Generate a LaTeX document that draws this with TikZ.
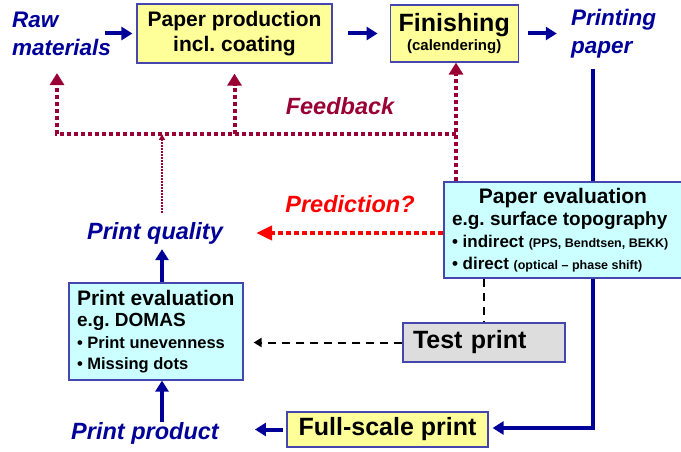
\documentclass[tikz,border=0pt]{standalone}
\usepackage{fontspec}
\setmainfont{Liberation Sans}
\usepackage{xcolor}
\usepackage{tikz}
\usetikzlibrary{arrows.meta, positioning, backgrounds}
\definecolor{navytext}{RGB}{0, 0, 153}
\definecolor{boxline}{RGB}{70, 70, 175}
\definecolor{boxyellow}{RGB}{255, 255, 153}
\definecolor{boxcyan}{RGB}{204, 255, 255}
\definecolor{boxgray}{RGB}{221, 221, 221}
\definecolor{fbred}{RGB}{153, 0, 51}
\definecolor{predred}{RGB}{255, 0, 0}
\frenchspacing

\begin{document}
\begin{tikzpicture}[
    x=1pt, y=-1pt,
    box/.style={draw=boxline, line width=1.2pt, align=center, inner sep=2pt, font=\bfseries},
    ybox/.style={box, fill=boxyellow},
    cbox/.style={box, fill=boxcyan, align=left, inner xsep=8pt,
        execute at begin node={\spaceskip=0pt\xspaceskip=0pt\hyphenpenalty=10000}},
    lbl/.style={text=navytext, align=left, inner sep=3pt, font=\bfseries\itshape\fontsize{23.5}{28}\selectfont},
    barrow/.style={-{Triangle[width=13pt,length=11pt]}, line width=4pt, draw=navytext},
    fback/.style={draw=fbred, line width=4pt, dash pattern=on 4pt off 3pt},
    fbarrow/.style={fback, -{Triangle[width=14pt,length=12pt]}},
    thinfb/.style={draw=fbred, line width=1.5pt, dash pattern=on 1.5pt off 1.5pt, -{Triangle[width=6pt,length=6pt]}},
    predarrow/.style={draw=predred, line width=4pt, dash pattern=on 5pt off 3pt, -{Triangle[width=14pt,length=16pt]}},
    darrow/.style={draw=black, line width=2pt, dash pattern=on 8pt off 6pt}
]
    \useasboundingbox (0,0) rectangle (681,452);

    % production chain
    \node[lbl, anchor=west, font=\bfseries\itshape\fontsize{22.5}{28}\selectfont] (raw) at (9,34) {Raw\\materials};
    \node[ybox, minimum width=195pt, minimum height=59pt, font=\bfseries\fontsize{21}{25}\selectfont] (paper) at (234.5,33.5) {Paper production\\incl. coating};
    \node[ybox, minimum width=128pt, minimum height=57pt, right=57pt of paper] (finish) {{\fontsize{25}{27}\selectfont Finishing}\\[2pt]{\fontsize{15}{17}\selectfont (calendering)}};
    \node[lbl, right=49pt of finish, font=\bfseries\itshape\fontsize{22.5}{28}\selectfont] (printing) {Printing\\paper};

    % evaluation
    \node[cbox, text width=222pt, minimum width=237pt, minimum height=96pt, font=\bfseries\fontsize{17}{22}\selectfont] (peval) at (563,230)
        {{\centering\fontsize{21}{26}\selectfont Paper evaluation\par}
         {\fontsize{19}{25}\selectfont e.g. surface topography}\\
         • indirect {\fontsize{12.5}{14}\selectfont (PPS, Bendtsen, BEKK)}\\
         • direct {\fontsize{12.5}{14}\selectfont (optical – phase shift)}};
    \node[box, fill=boxgray, align=left, inner xsep=10pt, text width=142pt, minimum height=39pt, font=\bfseries\fontsize{25}{28}\selectfont] (test) at (484,342.5) {Test print};
    \node[ybox, minimum width=201pt, minimum height=35pt, font=\bfseries\fontsize{25}{28}\selectfont] (full) at (387.5,429.5) {Full-scale print};
    \node[cbox, text width=158pt, minimum height=97pt, font=\bfseries\fontsize{16.5}{21.5}\selectfont] (printeval) at (156,331.5)
        {{\fontsize{21}{25}\selectfont Print evaluation}\\
         {\fontsize{19}{25.5}\selectfont e.g. DOMAS}\\
         • Print unevenness\\
         • Missing dots};
    \node[lbl] (quality) at (155,233) {Print quality};
    \node[lbl] (product) at (145,433) {Print product};
    \node[lbl, text=fbred] (feedback) at (340,106) {Feedback};
    \node[lbl, text=predred] (prediction) at (350,204) {Prediction?};

    \coordinate (spine) at (162,0);
    \coordinate (fbL) at (57,134);
    \coordinate (fbR) at (456,134);
    \coordinate (turn) at (593,428);

    % main flow
    \draw[barrow, shorten <=-9pt, shorten >=4pt] (raw.east |- paper.west) -- (paper.west);
    \draw[barrow, shorten <=15pt, shorten >=12pt] (paper) -- (finish);
    \draw[barrow, shorten <=9pt, shorten >=11pt] (finish) -- (finish -| printing.west);
    \begin{scope}[on background layer]
        \draw[barrow, line width=4.5pt, shorten <=8pt, shorten >=4pt] (printing.south -| turn) -- (turn) -- (turn -| full.east);
    \end{scope}
    \draw[barrow, shorten <=3pt, shorten >=33pt] (full) -- (full -| product.east);
    \draw[barrow, shorten <=-3pt] (product.north -| spine) -- (printeval.south -| spine);
    \draw[barrow, shorten >=2pt] (printeval.north -| spine) -- (quality.south -| spine);

    % feedback
    \draw[fbarrow, shorten >=14pt] (fbR) -- (fbL) -- (fbL |- raw.south);
    \draw[fbarrow, shorten >=10pt] (paper |- fbL) -- (paper.south);
    \draw[fbarrow] (peval.north -| fbR) -- (finish.south -| fbR);
    \draw[thinfb, shorten <=6pt] (quality.north -| spine) -- (spine |- fbL);

    % prediction and test print
    \draw[predarrow, shorten >=30pt] (peval.west |- quality) -- (quality);
    \draw[darrow] (peval.south -| test) -- (test.north);
    \draw[darrow, -{Triangle[width=9pt,length=8pt]}, shorten >=10pt] (test.west) -- (test.west -| printeval.east);
\end{tikzpicture}
\end{document}
